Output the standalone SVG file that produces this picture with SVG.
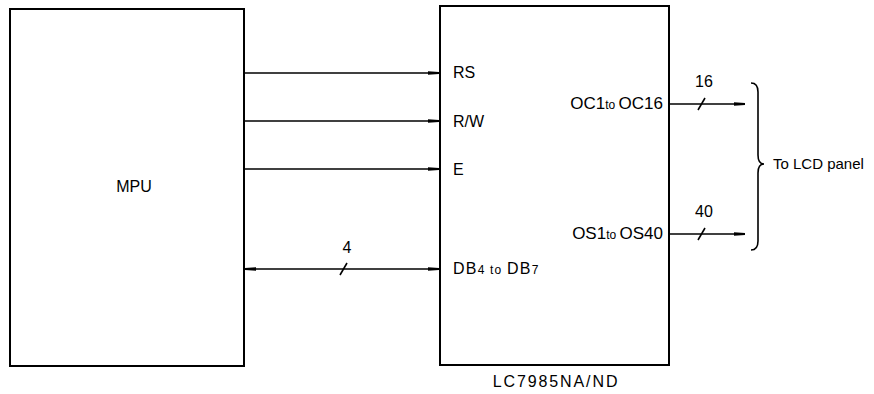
<svg xmlns="http://www.w3.org/2000/svg" width="874" height="394" viewBox="0 0 874 394">
<style>
text{font-family:"Liberation Sans",Arial,sans-serif;font-size:16px;fill:#000}
.box{fill:#fff;stroke:#000;stroke-width:2}
.ln{stroke:#000;stroke-width:1.6;fill:none}
.sm{font-size:12px}
</style>
<defs>
<marker id="ah" markerWidth="12" markerHeight="6" refX="11" refY="3" orient="auto-start-reverse" markerUnits="userSpaceOnUse">
<path d="M0,1.2 L11,2 L11,4 L0,4.8 Z" fill="#000"/>
</marker>
</defs>
<rect width="874" height="394" fill="#fff"/>
<g id="mpu">
<rect class="box" x="10" y="9" width="234" height="357"/>
<text x="134" y="192" text-anchor="middle">MPU</text>
</g>
<g id="lc7985">
<rect class="box" x="440" y="6" width="229" height="359"/>
<text x="453" y="78">RS</text>
<text x="453" y="127">R/W</text>
<text x="453" y="175">E</text>
<text x="453" y="274" style="letter-spacing:1.2px">DB<tspan class="sm">4</tspan><tspan class="sm"> to </tspan>DB<tspan class="sm">7</tspan></text>
<text x="663" y="109" text-anchor="end" style="font-size:17px">OC1<tspan class="sm">to </tspan>OC16</text>
<text x="663" y="239" text-anchor="end" style="font-size:17px">OS1<tspan class="sm">to </tspan>OS40</text>
<text x="556" y="387" text-anchor="middle" style="font-size:16px;letter-spacing:1.9px">LC7985NA/ND</text>
</g>
<g id="lcd">
<path class="ln" d="M751,83 Q758,83 758,92 L758,155 Q758,164 764,164 Q758,164 758,173 L758,241 Q758,250 751,250"/>
<text x="773" y="169" style="font-size:15px">To LCD panel</text>
</g>
<g id="connectors">
<line class="ln" x1="244" y1="73" x2="439" y2="73" marker-end="url(#ah)"/>
<line class="ln" x1="244" y1="121" x2="439" y2="121" marker-end="url(#ah)"/>
<line class="ln" x1="244" y1="169" x2="439" y2="169" marker-end="url(#ah)"/>
<line class="ln" x1="245" y1="269" x2="439" y2="269" marker-start="url(#ah)" marker-end="url(#ah)"/>
<line class="ln" x1="340" y1="275" x2="347" y2="263"/>
<text x="347" y="253" text-anchor="middle">4</text>
<line class="ln" x1="669" y1="104" x2="745" y2="104" marker-end="url(#ah)"/>
<line class="ln" x1="698" y1="110" x2="705" y2="98"/>
<text x="704" y="87" text-anchor="middle">16</text>
<line class="ln" x1="669" y1="234" x2="745" y2="234" marker-end="url(#ah)"/>
<line class="ln" x1="698" y1="240" x2="705" y2="228"/>
<text x="704" y="217" text-anchor="middle">40</text>
</g>
</svg>
